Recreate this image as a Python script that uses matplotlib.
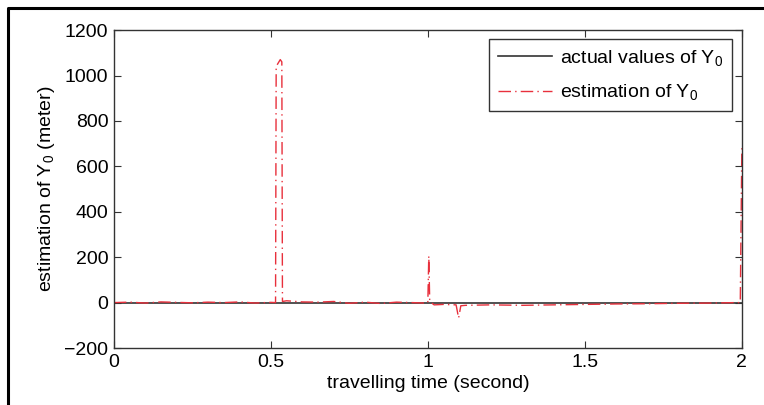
import numpy as np
import matplotlib
matplotlib.use('Agg')
import matplotlib.pyplot as plt
from matplotlib.lines import Line2D

plt.rcParams['font.family'] = ['Liberation Sans', 'DejaVu Sans']
plt.rcParams['mathtext.default'] = 'regular'

# actual values of Y0 (constant zero)
t_actual = [0.0, 2.0]
y_actual = [0.0, 0.0]

# estimation of Y0
t_est = [0.0, 0.05, 0.1, 0.15, 0.2, 0.25, 0.3, 0.35, 0.4, 0.45, 0.5,
         0.515, 0.517, 0.53, 0.535, 0.537, 0.55, 0.6, 0.65, 0.7, 0.75,
         0.8, 0.85, 0.9, 0.95, 0.99, 1.0, 1.003, 1.006, 1.02, 1.05,
         1.09, 1.098, 1.105, 1.12, 1.2, 1.3, 1.4, 1.5, 1.6, 1.7, 1.8,
         1.9, 1.98, 1.995, 2.0]
y_est = [0, 2, -2, 3, 1, -1, 2, 0, 3, -2, 1,
         0, 1040, 1070, 1060, 5, 8, 3, 2, 5, -3,
         2, -4, 2, 0, -2, 0, 205, 5, -10, -8,
         -10, -68, -14, -12, -10, -12, -10, -8, -6, -5, -3,
         -2, 0, 0, 680]

xticks = [0, 0.5, 1, 1.5, 2]
xticklabels = ['0', '0.5', '1', '1.5', '2']
yticks = [-200, 0, 200, 400, 600, 800, 1000, 1200]

fs = 14

fig = plt.figure(figsize=(7.64, 4.05), dpi=100)
ax = fig.add_axes([0.149, 0.1407, 0.822, 0.785])

ax.plot(t_actual, y_actual, color='#333333', lw=1.2, label='actual values of Y$_0$')
ax.plot(t_est, y_est, color='#e8303c', lw=1.0, dashes=(9, 3, 1, 3),
        label='estimation of Y$_0$')

ax.set_xlim(0, 2)
ax.set_ylim(-200, 1200)
ax.set_xticks(xticks)
ax.set_xticklabels(xticklabels)
ax.set_yticks(yticks)
ax.tick_params(direction='in', top=True, right=True, labelsize=fs, length=5,
               color='#333333', pad=4)
for s in ax.spines.values():
    s.set_color('#333333')
    s.set_linewidth(1.0)

ax.set_xlabel('travelling time (second)', fontsize=fs, labelpad=3)
ax.set_ylabel('estimation of Y$_0$ (meter)', fontsize=fs, labelpad=5)

leg = ax.legend(loc='upper right', bbox_to_anchor=(0.984, 0.972), fontsize=fs,
                fancybox=False, edgecolor='#333333', framealpha=1,
                handlelength=2.8, labelspacing=0.75, borderpad=0.45,
                handletextpad=0.4, borderaxespad=0)
leg.get_frame().set_linewidth(1.0)

# outer frame of the picture
fig.add_artist(Line2D([0.0105, 0.0105, 1.01], [-0.01, 0.980, 0.980],
                      transform=fig.transFigure, color='black', lw=2.2))

plt.savefig('out.png', dpi=100)
